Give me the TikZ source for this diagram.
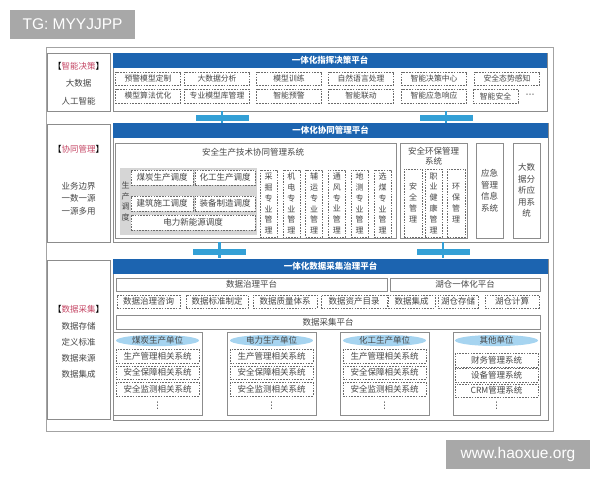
\documentclass[tikz,border=0pt]{standalone}
\usepackage{fontspec}
\setmainfont{Noto Sans CJK SC}
\newfontfamily\wmfont{Liberation Sans}
\newfontfamily\dotfont{DejaVu Sans}
\usetikzlibrary{shapes.geometric}
\definecolor{bar_blue}{RGB}{28,100,176}
\definecolor{link_blue}{RGB}{52,160,214}
\definecolor{oval_blue}{RGB}{166,212,240}
\definecolor{line_gray}{RGB}{140,140,140}
\definecolor{text_gray}{RGB}{70,70,70}
\definecolor{tag_red}{RGB}{196,70,100}
\definecolor{mark_gray}{RGB}{168,168,168}

\begin{document}
\begin{tikzpicture}[x=1pt, y=-1pt,
    every node/.style={inner sep=0pt, text=text_gray, font=\fontsize{8.5}{10}\selectfont},
    dim/.style 2 args={minimum width=#1pt, minimum height=#2pt},
    frame/.style={draw=line_gray, line width=0.7pt},
    dbox/.style={draw=text_gray!80, fill=white, line width=0.5pt, dash pattern=on 1.6pt off 1.2pt},
    small/.style={font=\fontsize{7.8}{9}\selectfont},
    vtext/.style={align=center, font=\fontsize{8}{10.8}\selectfont},
    title/.style={fill=bar_blue, text=white, minimum height=15pt, font=\fontsize{8.5}{10}\selectfont\bfseries},
    link/.style={fill=link_blue, dim={53}{6}},
    oval/.style={ellipse, fill=oval_blue, dim={83}{11}},
    more/.style={text=black!80, font=\dotfont\fontsize{9}{10}\selectfont},
    wmark/.style={fill=mark_gray, text=white, font=\wmfont\fontsize{15.5}{18}\selectfont}]
  \useasboundingbox (0,0) rectangle (600,480);
  \node[frame, draw=line_gray!80, dim={507}{384}] (outer) at (299.5,239) {};

  % top layer
  \node[frame, dim={63}{58}] (tag1) at (78.5,82) {};
  \node[text=black] (tag1h) at (78.5,66) {【\textcolor{tag_red}{智能决策}】};
  \node (tag1a) at (78.5,83) {大数据};
  \node (tag1b) at (78.5,101) {人工智能};
  \node[frame, dim={434}{58}] (top) at (330,82) {};
  \node[title, minimum width=434pt] (topbar) at (330,60.5) {一体化指挥决策平台};
  \node[dbox, small, dim={65}{13.5}] (a1) at (148,78.5) {预警模型定制};
  \node[dbox, small, dim={65}{13.5}] (a2) at (217,78.5) {大数据分析};
  \node[dbox, small, dim={65}{13.5}] (a3) at (289,78.5) {模型训练};
  \node[dbox, small, dim={65}{13.5}] (a4) at (361,78.5) {自然语言处理};
  \node[dbox, small, dim={65}{13.5}] (a5) at (434,78.5) {智能决策中心};
  \node[dbox, small, dim={65}{13.5}] (a6) at (507,78.5) {安全态势感知};
  \node[dbox, small, dim={65}{13.5}] (b1) at (148,96) {模型算法优化};
  \node[dbox, small, dim={65}{13.5}] (b2) at (217,96) {专业模型库管理};
  \node[dbox, small, dim={65}{13.5}] (b3) at (289,96) {智能预警};
  \node[dbox, small, dim={65}{13.5}] (b4) at (361,96) {智能联动};
  \node[dbox, small, dim={65}{13.5}] (b5) at (434,96) {智能应急响应};
  \node[dbox, small, dim={45}{13.5}] (b6) at (495.5,96) {智能安全};
  \node[more] (b7) at (530,96) {⋯};

  % middle layer
  \node[frame, dim={63}{118}] (tag2) at (78.5,183) {};
  \node[text=black] (tag2h) at (78.5,149) {【\textcolor{tag_red}{协同管理}】};
  \node (tag2a) at (78.5,186) {业务边界};
  \node (tag2b) at (78.5,198.5) {一数一源};
  \node (tag2c) at (78.5,211) {一源多用};
  \node[frame, dim={435}{119}] (mid) at (330.5,182.5) {};
  \node[title, minimum width=435pt] (midbar) at (330.5,130.5) {一体化协同管理平台};
  \node[frame, line width=0.5pt, dim={281}{95}] (tech) at (255.5,190.5) {};
  \node (techname) at (253,152) {安全生产技术协同管理系统};
  \node[fill=gray!32, dim={137}{67}] (disp) at (188.5,201.5) {};
  \node[vtext] (dispname) at (125.5,201.5) {生\\产\\调\\度};
  \node[dbox, dim={62}{15}] (d1) at (162,177.5) {煤炭生产调度};
  \node[dbox, dim={60}{15}] (d2) at (225,177.5) {化工生产调度};
  \node[dbox, dim={62}{15}] (d3) at (162,203.5) {建筑施工调度};
  \node[dbox, dim={60}{15}] (d4) at (225,203.5) {装备制造调度};
  \node[dbox, dim={124}{15}] (d5) at (193,222.5) {电力新能源调度};
  \node[dbox, vtext, dim={17}{67}] (p1) at (268.5,203.5) {采\\掘\\专\\业\\管\\理};
  \node[dbox, vtext, dim={17}{67}] (p2) at (291.3,203.5) {机\\电\\专\\业\\管\\理};
  \node[dbox, vtext, dim={17}{67}] (p3) at (314.1,203.5) {辅\\运\\专\\业\\管\\理};
  \node[dbox, vtext, dim={17}{67}] (p4) at (336.9,203.5) {通\\风\\专\\业\\管\\理};
  \node[dbox, vtext, dim={17}{67}] (p5) at (359.7,203.5) {地\\测\\专\\业\\管\\理};
  \node[dbox, vtext, dim={17}{67}] (p6) at (382.5,203.5) {选\\煤\\专\\业\\管\\理};
  \node[frame, line width=0.5pt, dim={67}{95}] (env) at (433.5,190.5) {};
  \node[align=center, font=\fontsize{8.5}{10}\selectfont] (envname) at (433.5,156) {安全环保管理\\系统};
  \node[dbox, vtext, dim={18}{68}] (e1) at (413,203) {安\\全\\管\\理};
  \node[dbox, vtext, dim={17}{68}] (e2) at (433.5,203) {职\\业\\健\\康\\管\\理};
  \node[dbox, vtext, dim={18}{68}] (e3) at (456,203) {环\\保\\管\\理};
  \node[frame, line width=0.5pt, vtext, font=\fontsize{8.5}{11.5}\selectfont, dim={27}{95}] (emerg) at (489.5,190.5) {应急\\管理\\信息\\系统};
  \node[frame, line width=0.5pt, vtext, font=\fontsize{8.5}{11.5}\selectfont, dim={27}{95}] (bigdata) at (526.5,190.5) {大数\\据分\\析应\\用系\\统};

  % bottom layer
  \node[frame, dim={63}{159}] (tag3) at (78.5,339.5) {};
  \node[text=black] (tag3h) at (78.5,309) {【\textcolor{tag_red}{数据采集}】};
  \node (tag3a) at (78.5,326) {数据存储};
  \node (tag3b) at (78.5,342) {定义标准};
  \node (tag3c) at (78.5,358) {数据来源};
  \node (tag3d) at (78.5,374) {数据集成};
  \node[frame, dim={435}{161}] (bot) at (330.5,339.5) {};
  \node[title, minimum width=435pt] (botbar) at (330.5,266) {一体化数据采集治理平台};
  \node[frame, line width=0.5pt, dim={271}{13}] (gov) at (251.5,284.5) {数据治理平台};
  \node[frame, line width=0.5pt, dim={150}{13}] (lake) at (465,284.5) {湖仓一体化平台};
  \node[dbox, dim={63}{13}] (g1) at (148.5,301.5) {数据治理咨询};
  \node[dbox, dim={62}{13}] (g2) at (217,301.5) {数据标准制定};
  \node[dbox, dim={64}{13}] (g3) at (285,301.5) {数据质量体系};
  \node[dbox, dim={66}{13}] (g4) at (354,301.5) {数据资产目录};
  \node[dbox, dim={47}{13}] (g5) at (411.5,301.5) {数据集成};
  \node[dbox, dim={40}{13}] (g6) at (458,301.5) {湖仓存储};
  \node[dbox, dim={54}{13}] (g7) at (512,301.5) {湖仓计算};
  \node[frame, line width=0.5pt, dim={424}{14}] (collect) at (328,322) {数据采集平台};

  \node[frame, line width=0.5pt, dim={89}{83}] (u1) at (157.5,373.5) {};
  \node[oval] (u1h) at (157.5,340.5) {煤炭生产单位};
  \node[dbox, dim={83}{13.5}] (u1a) at (157.5,356) {生产管理相关系统};
  \node[dbox, dim={83}{13.5}] (u1b) at (157.5,372.5) {安全保障相关系统};
  \node[dbox, dim={83}{13.5}] (u1c) at (157.5,389) {安全监测相关系统};
  \node[more] (u1d) at (157.5,406) {⋮};
  \node[frame, line width=0.5pt, dim={89}{83}] (u2) at (271.5,373.5) {};
  \node[oval] (u2h) at (271.5,340.5) {电力生产单位};
  \node[dbox, dim={83}{13.5}] (u2a) at (271.5,356) {生产管理相关系统};
  \node[dbox, dim={83}{13.5}] (u2b) at (271.5,372.5) {安全保障相关系统};
  \node[dbox, dim={83}{13.5}] (u2c) at (271.5,389) {安全监测相关系统};
  \node[more] (u2d) at (271.5,406) {⋮};
  \node[frame, line width=0.5pt, dim={89}{83}] (u3) at (384.5,373.5) {};
  \node[oval] (u3h) at (384.5,340.5) {化工生产单位};
  \node[dbox, dim={83}{13.5}] (u3a) at (384.5,356) {生产管理相关系统};
  \node[dbox, dim={83}{13.5}] (u3b) at (384.5,372.5) {安全保障相关系统};
  \node[dbox, dim={83}{13.5}] (u3c) at (384.5,389) {安全监测相关系统};
  \node[more] (u3d) at (384.5,406) {⋮};
  \node[frame, line width=0.5pt, dim={87}{83}] (u4) at (496.5,373.5) {};
  \node[oval] (u4h) at (496.5,340.5) {其他单位};
  \node[dbox, dim={83}{13.5}] (u4a) at (496.5,360) {财务管理系统};
  \node[dbox, dim={83}{13.5}] (u4b) at (496.5,375) {设备管理系统};
  \node[dbox, dim={83}{13.5}] (u4c) at (496.5,390.5) {CRM管理系统};
  \node[more] (u4d) at (496.5,406) {⋮};

  % links between layers
  \node[link] (c1) at (222,118) {};
  \node[link] (c2) at (446,118) {};
  \node[link] (c3) at (219.5,251.5) {};
  \node[link] (c4) at (443,251.5) {};
  \draw[link_blue, line width=2.5pt] (c1.center |- top.south) -- (c1.center |- midbar.north);
  \draw[link_blue, line width=2.5pt] (c2.center |- top.south) -- (c2.center |- midbar.north);
  \draw[link_blue, line width=2.5pt] (c3.center |- mid.south) -- (c3.center |- botbar.north);
  \draw[link_blue, line width=2.5pt] (c4.center |- mid.south) -- (c4.center |- botbar.north);

  % watermarks
  \node[wmark, dim={125}{29}] (wm1) at (72.5,24.5) {TG: MYYJJPP};
  \node[wmark, dim={144}{29}] (wm2) at (518,454.5) {www.haoxue.org};
\end{tikzpicture}
\end{document}
